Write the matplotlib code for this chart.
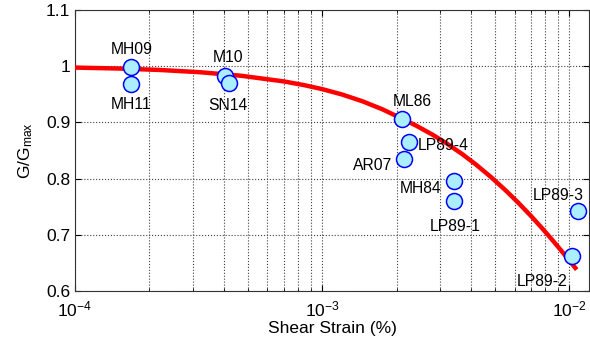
import numpy as np
import matplotlib
matplotlib.use("Agg")
import matplotlib.pyplot as plt
from matplotlib.ticker import LogLocator, NullFormatter

plt.rcParams['font.family'] = ['Liberation Sans', 'DejaVu Sans']
plt.rcParams['mathtext.fontset'] = 'custom'
plt.rcParams['mathtext.rm'] = 'Liberation Sans'
plt.rcParams['mathtext.it'] = 'Liberation Sans:italic'

# fitted modulus reduction curve
curve_strain = [1e-4, 1.5e-4, 2.2e-4, 3.2e-4, 4.7e-4, 7.0e-4, 8.5e-4, 1.0e-3,
                1.2e-3, 1.45e-3, 1.75e-3, 2.07e-3, 2.4e-3, 2.8e-3, 3.2e-3,
                3.7e-3, 4.2e-3, 4.8e-3, 5.5e-3, 6.2e-3, 7.0e-3, 7.8e-3,
                8.5e-3, 9.2e-3, 1.07e-2]
curve_ratio = [0.9975, 0.9959, 0.9933, 0.9893, 0.983, 0.9729, 0.9661, 0.9592,
               0.9498, 0.9378, 0.9234, 0.908, 0.8942, 0.8779, 0.8621,
               0.8430, 0.8245, 0.8033, 0.7797, 0.7574, 0.7332, 0.7104,
               0.6915, 0.6735, 0.638]

# measured points
names = ['MH09', 'MH11', 'M10', 'SN14', 'ML86', 'LP89-4', 'AR07',
         'MH84', 'LP89-1', 'LP89-3', 'LP89-2']
strain = [1.69e-4, 1.69e-4, 4.05e-4, 4.2e-4, 2.1e-3, 2.24e-3, 2.15e-3,
          3.42e-3, 3.42e-3, 1.08e-2, 1.02e-2]
ratio = [0.999, 0.968, 0.983, 0.970, 0.906, 0.866, 0.834,
         0.796, 0.760, 0.742, 0.662]

# label offsets in points and alignment
offsets = [(0, 12.5, 'center'), (0, -14.5, 'center'), (2, 13, 'center'),
           (-1, -16.5, 'center'), (7.5, 12.5, 'center'), (6.5, -3, 'left'),
           (-8.5, -4, 'right'), (-9.3, -5.5, 'right'), (0.7, -18.5, 'center'),
           (-13.7, 11.5, 'center'), (-21, -18.5, 'center')]

yticks = [0.6, 0.7, 0.8, 0.9, 1.0, 1.1]
ytick_labels = ['0.6', '0.7', '0.8', '0.9', '1', '1.1']

fig = plt.figure(figsize=(5.9, 3.45), dpi=100)
ax = fig.add_axes([75/590, 54/345, 514/590, 281/345])

ax.plot(curve_strain, curve_ratio, color='red', lw=3.2, solid_capstyle='butt',
        solid_joinstyle='round', zorder=3)
ax.plot(strain, ratio, 'o', ms=11.5, mfc='#aaeeff', mec='blue', mew=1.1,
        zorder=4, clip_on=False)

for n, x, y, (dx, dy, ha) in zip(names, strain, ratio, offsets):
    ax.annotate(n, (x, y), xytext=(dx, dy), textcoords='offset points',
                ha=ha, va='center', fontsize=11.3, zorder=5)

ax.set_xscale('log')
ax.set_xlim(1e-4, 1.2e-2)
ax.set_ylim(0.6, 1.1)
ax.set_yticks(yticks)
ax.set_yticklabels(ytick_labels)
ax.xaxis.set_major_locator(LogLocator(base=10, numticks=10))
ax.xaxis.set_minor_locator(LogLocator(base=10, subs=np.arange(2, 10), numticks=20))
ax.xaxis.set_minor_formatter(NullFormatter())

ax.grid(True, which='major', ls=':', color='0.25', lw=0.8)
ax.grid(True, which='minor', axis='x', ls=':', color='0.25', lw=0.8)
ax.tick_params(which='both', direction='in', top=True, right=True, labelsize=12.5)
ax.tick_params(axis='x', pad=6)
ax.tick_params(which='major', length=4)
ax.tick_params(which='minor', length=2)
for s in ax.spines.values():
    s.set_color('0.2')

ax.set_xlabel('Shear Strain (%)', fontsize=12.5, labelpad=1)
ax.set_ylabel(r'G/G$_{\rm max}$', fontsize=12.5, labelpad=8)

fig.savefig('out.png', dpi=100)
